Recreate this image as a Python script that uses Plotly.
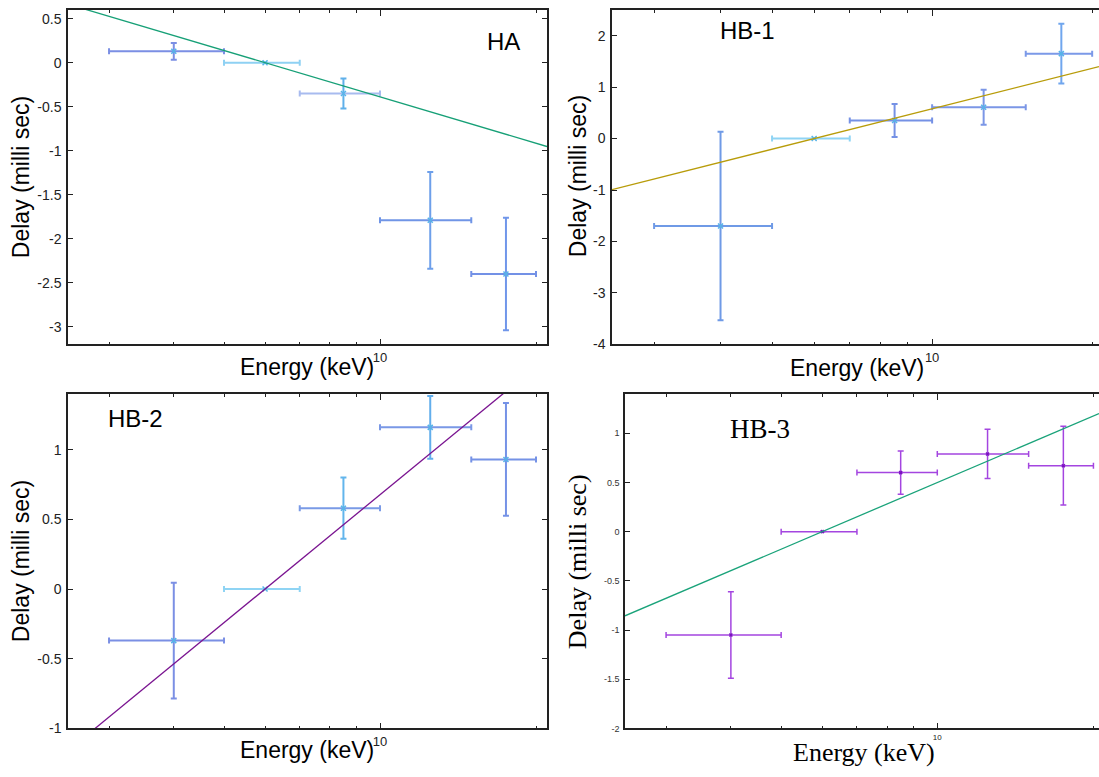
import numpy as np
import plotly.graph_objects as go

# ---------------- data ----------------
# energy bins (keV)
bin_lo = [3, 5, 7, 10, 15]
bin_hi = [5, 7, 10, 15, 20]
energy = [4, 6, 8.5, 12.5, 17.5]

panel_names = ["HA", "HB-1", "HB-2", "HB-3"]

ha_delay = [0.13, 0.0, -0.35, -1.79, -2.40]
ha_err = [0.095, 0.0, 0.17, 0.55, 0.64]

hb1_delay = [-1.70, 0.0, 0.35, 0.61, 1.65]
hb1_err = [1.83, 0.0, 0.32, 0.34, 0.58]

hb2_delay = [-0.37, 0.0, 0.58, 1.16, 0.93]
hb2_err = [0.415, 0.0, 0.22, 0.225, 0.405]

hb3_delay = [-1.05, 0.0, 0.60, 0.79, 0.67]
hb3_err = [0.44, 0.0, 0.22, 0.25, 0.40]

# fitted model: delay = slope * log10(E / E_ref)
fit_ref_energy = 6.0
fit_slopes = [-1.75, 2.61, 3.05, 2.25]

# y tick values per panel
ha_yticks = [-3, -2.5, -2, -1.5, -1, -0.5, 0, 0.5]
hb1_yticks = [-4, -3, -2, -1, 0, 1, 2]
hb2_yticks = [-1, -0.5, 0, 0.5, 1]
hb3_yticks = [-2, -1.5, -1, -0.5, 0, 0.5, 1]

delays = [ha_delay, hb1_delay, hb2_delay, hb3_delay]
errs = [ha_err, hb1_err, hb2_err, hb3_err]
yticks = [ha_yticks, hb1_yticks, hb2_yticks, hb3_yticks]

# ---------------- styles ----------------
W, H = 1099, 777
SANS = "Liberation Sans, Arial, Helvetica, sans-serif"
SERIF = "Liberation Serif, Times New Roman, serif"

# plot areas in pixels: (left, right, top, bottom)
boxes = [(68, 547, 10, 348), (612, 1099, 10, 348), (68, 547, 398, 736), (625, 1099, 398, 736)]
xranges = [(2.5, 21.0), (2.5, 20.6), (2.5, 21.0), (2.5, 20.5)]
yranges = [(-3.2, 0.6), (-4.0, 2.5), (-1.0, 1.4), (-2.0, 1.4)]
fit_colors = ["#17a077", "#b89c0a", "#7a1490", "#1aa37a"]

ex_colors = [
    ["#7b8fe4", "#8fd1f3", "#a8bbef", "#7095e6", "#7391e6"],
    ["#6f9ae6", "#8fd4f4", "#7591e5", "#7b96e6", "#7b99e8"],
    ["#7b8fe4", "#8fd4f4", "#7a9ae6", "#7a98e6", "#7592e6"],
    ["#a445e0"] * 5,
]
ey_colors = [
    ["#7b8fe4", "#8fd1f3", "#5fb0ea", "#6d9fea", "#7096ea"],
    ["#6f9ae6", "#8fd4f4", "#7591e5", "#7b96e6", "#70a6ee"],
    ["#7b8fe4", "#8fd4f4", "#62b5ec", "#62aeec", "#7592e6"],
    ["#a445e0"] * 5,
]
marker_colors = ["#56b4e9", "#56b4e9", "#56b4e9", "#7a10c0"]

fig = go.Figure()

for p in range(4):
    ax = "" if p == 0 else str(p + 1)
    xref, yref = "x" + ax, "y" + ax
    # data points with error bars
    for i in range(len(energy)):
        fig.add_trace(go.Scatter(
            x=[energy[i]], y=[delays[p][i]],
            xaxis=xref, yaxis=yref, mode="markers",
            marker=dict(symbol="x-thin", size=5 if p < 3 else 3,
                        line=dict(width=1.5, color=marker_colors[p]),
                        color=marker_colors[p]),
            error_x=dict(type="data", symmetric=False,
                         array=[bin_hi[i] - energy[i]],
                         arrayminus=[energy[i] - bin_lo[i]],
                         color=ex_colors[p][i], thickness=2 if p < 3 else 1.5, width=3),
            error_y=dict(type="data", array=[errs[p][i]],
                         color=ey_colors[p][i], thickness=2 if p < 3 else 1.5, width=3),
            showlegend=False, hoverinfo="skip",
        ))
    # fit line
    fe = np.geomspace(xranges[p][0], xranges[p][1], 60)
    fig.add_trace(go.Scatter(
        x=fe, y=fit_slopes[p] * np.log10(fe / fit_ref_energy),
        xaxis=xref, yaxis=yref, mode="lines",
        line=dict(color=fit_colors[p], width=1.3),
        showlegend=False, hoverinfo="skip",
    ))

layout = dict(
    width=W, height=H, margin=dict(l=0, r=0, t=0, b=0),
    paper_bgcolor="white", plot_bgcolor="white", showlegend=False,
)

annotations = []
for p in range(4):
    l, r, t, b = boxes[p]
    ax = "" if p == 0 else str(p + 1)
    serif = (p == 3)
    tick_size_y = 9 if serif else 14
    tick_size_x = 8 if serif else 13
    ytv = yticks[p]
    ytt = [("%g" % v) for v in ytv]
    layout["xaxis" + ax] = dict(
        domain=[l / W, r / W], anchor="y" + ax, type="log",
        range=[np.log10(xranges[p][0]), np.log10(xranges[p][1])],
        tickmode="array", tickvals=[10], ticktext=["10"],
        ticks="inside", ticklen=6, tickwidth=1, tickcolor="#222",
        minor=dict(tickmode="array", tickvals=[3, 4, 5, 6, 7, 8, 9, 20, 30],
                   ticks="inside", ticklen=3, tickwidth=1, tickcolor="#222", showgrid=False),
        showline=True, linecolor="#222", linewidth=1.5, mirror="allticks",
        showgrid=False, zeroline=False,
        tickfont=dict(family=SANS, size=tick_size_x, color="#222"),
    )
    layout["yaxis" + ax] = dict(
        domain=[1 - b / H, 1 - t / H], anchor="x" + ax,
        range=list(yranges[p]),
        tickmode="array", tickvals=ytv, ticktext=ytt,
        ticks="inside", ticklen=5, tickwidth=1, tickcolor="#222",
        showline=True, linecolor="#222", linewidth=1.5,
        mirror="allticks" if p in (0, 2) else False,
        showgrid=False, zeroline=False, ticklabelstandoff=2,
        tickfont=dict(family=SANS, size=tick_size_y, color="#222" if not serif else "#333"),
    )

# axis titles and panel labels as annotations (pixel positions)
ytitle_pos = [(21, 179), (578, 178), (21, 567), (577, 568)]
xtitle_pos = [(307, 371), (857, 372), (307, 758), (864, 760)]
label_pos = [(503, 42), (747, 31), (135, 423), (760, 433)]
for p in range(4):
    serif = (p == 3)
    fam = SERIF if serif else SANS
    tsize = 26 if serif else 23
    xx, yy = ytitle_pos[p]
    annotations.append(dict(text="Delay (milli sec)", x=xx / W, y=1 - yy / H,
                            xref="paper", yref="paper", showarrow=False, textangle=-90,
                            xanchor="center", yanchor="middle",
                            font=dict(family=fam, size=tsize, color="black")))
    xx, yy = xtitle_pos[p]
    annotations.append(dict(text="Energy (keV)", x=xx / W, y=1 - yy / H,
                            xref="paper", yref="paper", showarrow=False,
                            xanchor="center", yanchor="middle",
                            font=dict(family=fam, size=tsize, color="black")))
    xx, yy = label_pos[p]
    annotations.append(dict(text=panel_names[p], x=xx / W, y=1 - yy / H,
                            xref="paper", yref="paper", showarrow=False,
                            xanchor="center", yanchor="middle",
                            font=dict(family=fam, size=27 if serif else 24, color="black")))

layout["annotations"] = annotations
fig.update_layout(**layout)
fig.write_html("out.html")
